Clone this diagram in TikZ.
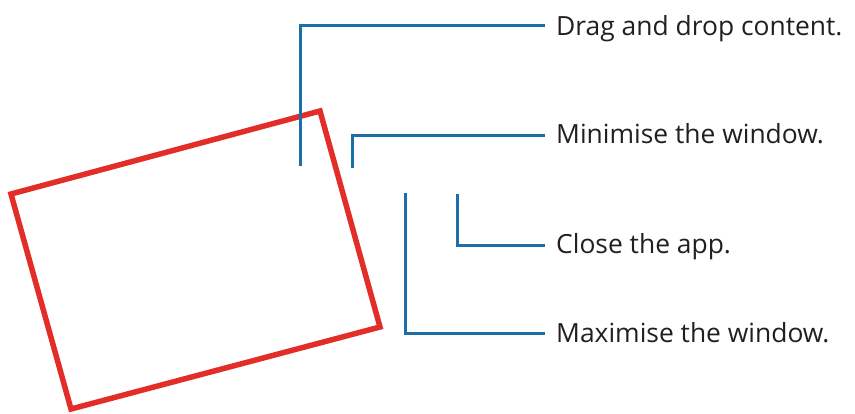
\documentclass[tikz,border=0pt]{standalone}
\usepackage{fontspec}
\setmainfont{Open Sans}
\definecolor{callblue}{RGB}{28,110,168}
\definecolor{winred}{RGB}{226,45,40}
\definecolor{txtgray}{RGB}{35,31,32}
\begin{document}
\begin{tikzpicture}[x=1pt,y=-1pt,
  callout/.style={draw=callblue,line width=3pt},
  label/.style={anchor=base west,inner sep=0pt,text=txtgray,font=\fontsize{26.4}{30}\selectfont},
  winframe/.style={draw=winred,line width=5.5pt,line join=miter}]
\useasboundingbox (0,0) rectangle (855,413);
% window
\coordinate (w1) at (11,194);
\coordinate (w2) at (320,111);
\coordinate (w3) at (380,327);
\coordinate (w4) at (71,409);
\draw[winframe] (w1) -- (w2) -- (w3) -- (w4) -- cycle;
% callout ends
\coordinate (s1) at (300.5,166);
\coordinate (e1) at (545,25);
\coordinate (s2) at (352,168);
\coordinate (e2) at (545,135);
\coordinate (s3) at (457.5,194);
\coordinate (e3) at (545,245);
\coordinate (s4) at (405,193);
\coordinate (e4) at (545,333);
% labels
\node[label] (t1) at (556,35) {Drag and drop content.};
\node[label] (t2) at (556,143) {Minimise the window.};
\node[label] (t3) at (556,253) {Close the app.};
\node[label] (t4) at (556,342) {Maximise the window.};
% connectors
\draw[callout] (s1) |- (e1);
\draw[callout] (s2) |- (e2);
\draw[callout] (s3) |- (e3);
\draw[callout] (s4) |- (e4);
\end{tikzpicture}
\end{document}
